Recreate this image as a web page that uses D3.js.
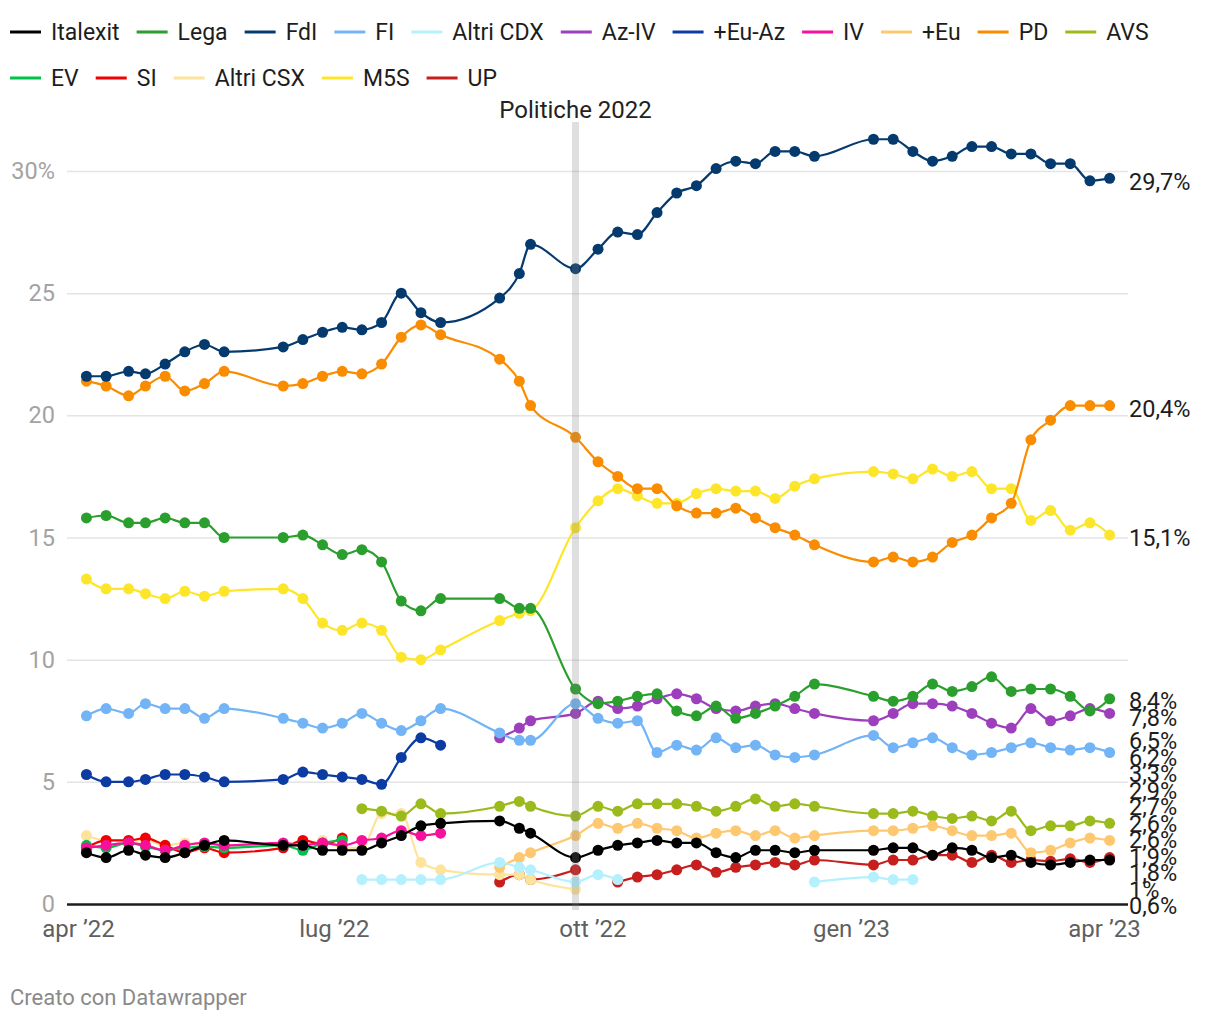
<!DOCTYPE html>
<html><head><meta charset="utf-8">
<script src="https://cdn.jsdelivr.net/npm/d3@7"></script>
<style>
body{margin:0;background:#fff;font-family:Roboto,"Noto Sans",sans-serif;}
svg text{font-family:Roboto,"Noto Sans",sans-serif;}
</style></head><body>
<svg id="chart" width="1220" height="1020"></svg>
<script>
// ---------- DATA ----------
const dates = ["2022-04-04","2022-04-11","2022-04-19","2022-04-25","2022-05-02","2022-05-09","2022-05-16","2022-05-23",
"2022-06-13","2022-06-20","2022-06-27","2022-07-04","2022-07-11","2022-07-18","2022-07-25","2022-08-01","2022-08-08",
"2022-08-29","2022-09-05","2022-09-09","2022-09-25",
"2022-10-03","2022-10-10","2022-10-17","2022-10-24","2022-10-31","2022-11-07","2022-11-14","2022-11-21","2022-11-28","2022-12-05","2022-12-12","2022-12-19",
"2023-01-09","2023-01-16","2023-01-23","2023-01-30","2023-02-06","2023-02-13","2023-02-20","2023-02-27","2023-03-06","2023-03-13","2023-03-20","2023-03-27","2023-04-03"];
const _ = null;
const italexit = [2.1,1.9,2.2,2.0,1.9,2.1,2.4,2.6, 2.4,2.4,2.2,2.2,2.2,2.5,2.8,3.2,3.3, 3.4,3.1,2.9, 1.9,
  2.2,2.4,2.5,2.6,2.5,2.5,2.1,1.9,2.2,2.2,2.1,2.2, 2.2,2.3,2.3,2.0,2.3,2.2,1.9,2.0,1.7,1.6,1.7,1.8,1.8];
const lega = [15.8,15.9,15.6,15.6,15.8,15.6,15.6,15.0, 15.0,15.1,14.7,14.3,14.5,14.0,12.4,12.0,12.5, 12.5,12.1,12.1, 8.8,
  8.2,8.3,8.5,8.6,7.9,7.7,8.1,7.6,7.8,8.1,8.5,9.0, 8.5,8.3,8.5,9.0,8.7,8.9,9.3,8.7,8.8,8.8,8.5,7.9,8.4];
const fdi = [21.6,21.6,21.8,21.7,22.1,22.6,22.9,22.6, 22.8,23.1,23.4,23.6,23.5,23.8,25.0,24.2,23.8, 24.8,25.8,27.0, 26.0,
  26.8,27.5,27.4,28.3,29.1,29.4,30.1,30.4,30.3,30.8,30.8,30.6, 31.3,31.3,30.8,30.4,30.6,31.0,31.0,30.7,30.7,30.3,30.3,29.6,29.7];
const fi = [7.7,8.0,7.8,8.2,8.0,8.0,7.6,8.0, 7.6,7.4,7.2,7.4,7.8,7.4,7.1,7.5,8.0, 7.0,6.7,6.7, 8.2,
  7.6,7.4,7.5,6.2,6.5,6.3,6.8,6.4,6.5,6.1,6.0,6.1, 6.9,6.4,6.6,6.8,6.4,6.1,6.2,6.4,6.6,6.4,6.3,6.4,6.2];
const altriCdx = [_,_,_,_,_,_,_,_, _,_,_,_,1.0,1.0,1.0,1.0,1.0, 1.7,1.5,1.4, 0.9,
  1.2,1.0,_,_,_,_,_,_,_,_,_,0.9, 1.1,1.0,1.0,_,_,_,_,_,_,_,_,_,_];
const azIv = [_,_,_,_,_,_,_,_, _,_,_,_,_,_,_,_,_, 6.8,7.2,7.5, 7.8,
  8.3,8.0,8.1,8.4,8.6,8.4,8.0,7.9,8.1,8.2,8.0,7.8, 7.5,7.8,8.2,8.2,8.1,7.8,7.4,7.2,8.0,7.5,7.7,8.0,7.8];
const euAz = [5.3,5.0,5.0,5.1,5.3,5.3,5.2,5.0, 5.1,5.4,5.3,5.2,5.1,4.9,6.0,6.8,6.5, _,_,_, _,
  _,_,_,_,_,_,_,_,_,_,_,_, _,_,_,_,_,_,_,_,_,_,_,_,_];
const iv = [2.3,2.4,2.5,2.4,2.2,2.4,2.5,2.4, 2.5,2.4,2.5,2.4,2.6,2.7,3.0,2.8,2.9, _,_,_, _,
  _,_,_,_,_,_,_,_,_,_,_,_, _,_,_,_,_,_,_,_,_,_,_,_,_];
const piuEu = [_,_,_,_,_,_,_,_, _,_,_,_,_,_,_,_,_, 1.5,1.9,2.1, 2.8,
  3.3,3.1,3.3,3.1,3.0,2.7,2.9,3.0,2.8,3.0,2.7,2.8, 3.0,3.0,3.1,3.2,3.0,2.8,2.8,2.9,2.1,2.2,2.5,2.7,2.6];
const pd = [21.4,21.2,20.8,21.2,21.6,21.0,21.3,21.8, 21.2,21.3,21.6,21.8,21.7,22.1,23.2,23.7,23.3, 22.3,21.4,20.4, 19.1,
  18.1,17.5,17.0,17.0,16.3,16.0,16.0,16.2,15.8,15.4,15.1,14.7, 14.0,14.2,14.0,14.2,14.8,15.1,15.8,16.4,19.0,19.8,20.4,20.4,20.4];
const avs = [_,_,_,_,_,_,_,_, _,_,_,_,3.9,3.8,3.6,4.1,3.7, 4.0,4.2,4.0, 3.6,
  4.0,3.8,4.1,4.1,4.1,4.0,3.8,4.0,4.3,4.0,4.1,4.0, 3.7,3.7,3.8,3.6,3.5,3.6,3.4,3.8,3.0,3.2,3.2,3.4,3.3];
const ev = [2.4,2.3,2.5,2.35,2.2,2.3,2.35,2.3, 2.4,2.2,2.5,2.6, _,_,_,_,_, _,_,_, _,
  _,_,_,_,_,_,_,_,_,_,_,_, _,_,_,_,_,_,_,_,_,_,_,_,_];
const si = [2.3,2.6,2.6,2.7,2.4,2.1,2.3,2.1, 2.3,2.6,2.45,2.7, _,_,_,_,_, _,_,_, _,
  _,_,_,_,_,_,_,_,_,_,_,_, _,_,_,_,_,_,_,_,_,_,_,_,_];
const altriCsx = [2.8,2.6,2.6,2.6,2.4,2.5,2.4,2.4, 2.4,2.4,2.6,2.3,2.3,3.7,3.7,1.7,1.4, 1.2,1.2,1.0, 0.6,
  _,_,_,_,_,_,_,_,_,_,_,_, _,_,_,_,_,_,_,_,_,_,_,_,_];
const m5s = [13.3,12.9,12.9,12.7,12.5,12.8,12.6,12.8, 12.9,12.5,11.5,11.2,11.5,11.2,10.1,10.0,10.4, 11.6,11.9,12.0, 15.4,
  16.5,17.0,16.7,16.4,16.4,16.8,17.0,16.9,16.9,16.6,17.1,17.4, 17.7,17.6,17.4,17.8,17.5,17.7,17.0,17.0,15.7,16.1,15.3,15.6,15.1];
const up = [_,_,_,_,_,_,_,_, _,_,_,_,_,_,_,_,_, 0.9,1.2,1.0, 1.4,
  _,0.9,1.1,1.2,1.4,1.6,1.3,1.5,1.6,1.7,1.6,1.8, 1.6,1.8,1.8,2.0,2.0,1.7,2.0,1.7,1.8,1.75,1.85,1.7,1.9];

const seriesNames  = ["Italexit","Lega","FdI","FI","Altri CDX","Az-IV","+Eu-Az","IV","+Eu","PD","AVS","EV","SI","Altri CSX","M5S","UP"];
const seriesValues = [italexit, lega, fdi, fi, altriCdx, azIv, euAz, iv, piuEu, pd, avs, ev, si, altriCsx, m5s, up];
const seriesColors = ["#000000","#2b9f2d","#053a6e","#72b4f5","#b4f0fd","#9d3fbd","#0b3ba3","#f6109c","#fec871","#f98c00","#9bbb1c","#00c24b","#f00000","#fde39c","#fde62a","#c71f1e"];

const yTicks = [0,5,10,15,20,25,30];
const xTickDates = ["2022-04-01","2022-07-01","2022-10-01","2023-01-01","2023-04-01"];
const xTickLabels = ["apr ’22","lug ’22","ott ’22","gen ’23","apr ’23"];
const electionDate = "2022-09-25";
const electionLabel = "Politiche 2022";
const footer = "Creato con Datawrapper";

// ---------- CHART ----------
const parse = d3.utcParse("%Y-%m-%d");
const svg = d3.select("#chart");
const plotLeft = 67, plotRight = 1128;
const x = d3.scaleUtc().domain([parse("2022-04-01"), parse("2023-04-01")]).range([78, 1104]);
const y = d3.scaleLinear().domain([0, 30]).range([904, 171]);

// y grid + labels
const yAxis = d3.axisLeft(y).tickValues(yTicks).tickSize(-(plotRight - plotLeft)).tickPadding(12)
  .tickFormat(d => d === 30 ? d + "%" : d);
const gy = svg.append("g").attr("transform", `translate(${plotLeft},0)`).call(yAxis);
gy.select(".domain").remove();
gy.selectAll(".tick line").attr("stroke", d => d === 0 ? "#1d1d1d" : "#e4e4e4").attr("stroke-width", d => d === 0 ? 2.5 : 1.5);
gy.selectAll(".tick text").attr("fill", "#a3a3a3").attr("font-size", 23.5).attr("x", -12);

// x axis labels
const xAxis = d3.axisBottom(x).tickValues(xTickDates.map(parse)).tickSize(0).tickPadding(16)
  .tickFormat((d, i) => xTickLabels[i]);
const gx = svg.append("g").attr("transform", `translate(0,${y(0)})`).call(xAxis);
gx.select(".domain").remove();
gx.selectAll(".tick text").attr("fill", "#5f5f5f").attr("font-size", 24);

// series
const line = d3.line().defined(d => d.v != null).x(d => x(d.d)).y(d => y(d.v)).curve(d3.curveMonotoneX);
const gSeries = svg.append("g");
const order = d3.range(seriesNames.length).reverse();
order.forEach(i => {
  const pts = dates.map((d, k) => ({d: parse(d), v: seriesValues[i][k]}));
  const g = gSeries.append("g");
  g.append("path").datum(pts).attr("d", line).attr("fill", "none")
    .attr("stroke", seriesColors[i]).attr("stroke-width", 2.2).attr("stroke-linejoin", "round");
  g.selectAll("circle").data(pts.filter(p => p.v != null)).join("circle")
    .attr("cx", p => x(p.d)).attr("cy", p => y(p.v)).attr("r", 5.5).attr("fill", seriesColors[i]);
});

// election band
const ex = x(parse(electionDate));
svg.append("rect").attr("x", ex - 3.5).attr("y", 122).attr("width", 7).attr("height", y(0) + 6 - 122)
  .attr("fill", "#808080").attr("opacity", 0.25);
svg.append("text").attr("x", ex).attr("y", 110).attr("dy", "0.35em").attr("text-anchor", "middle")
  .attr("font-size", 24).attr("fill", "#222").text(electionLabel);

// end labels with simple collision avoidance
const labels = seriesNames.map((n, i) => {
  const vals = seriesValues[i].filter(v => v != null);
  const v = vals[vals.length - 1];
  return {v, y: y(v), text: String(v).replace(".", ",") + "%"};
}).sort((a, b) => a.y - b.y);
const gap = 16.5, bottom = 903;
for (let it = 0; it < 300; it++) {
  for (let k = 1; k < labels.length; k++) {
    const d = labels[k].y - labels[k - 1].y;
    if (d < gap) { const s = (gap - d) / 2; labels[k].y += s; labels[k - 1].y -= s; }
  }
  if (labels[labels.length - 1].y > bottom) labels[labels.length - 1].y = bottom;
}
svg.append("g").selectAll("text").data(labels).join("text")
  .attr("x", 1129).attr("y", d => d.y).attr("dy", "0.48em")
  .attr("font-size", 23.5).attr("fill", "#1d1d1d").text(d => d.text);

// legend
const legend = svg.append("g");
let lx = 10, ly = 32;
seriesNames.forEach((n, i) => {
  const g = legend.append("g");
  const t = g.append("text").attr("x", lx + 41).attr("y", ly).attr("dy", "0.35em")
    .attr("font-size", 23).attr("fill", "#1d1d1d").text(n);
  const w = t.node().getComputedTextLength();
  if (lx + 41 + w > 1200) {
    lx = 10; ly += 46;
    t.attr("x", lx + 41).attr("y", ly);
  }
  g.append("line").attr("x1", lx).attr("x2", lx + 31).attr("y1", ly).attr("y2", ly)
    .attr("stroke", seriesColors[i]).attr("stroke-width", 3);
  lx += 41 + w + 17;
});

// footer
svg.append("text").attr("x", 10).attr("y", 997).attr("dy", "0.35em").attr("font-size", 22)
  .attr("fill", "#8a8a8a").text(footer);
</script>
</body></html>
